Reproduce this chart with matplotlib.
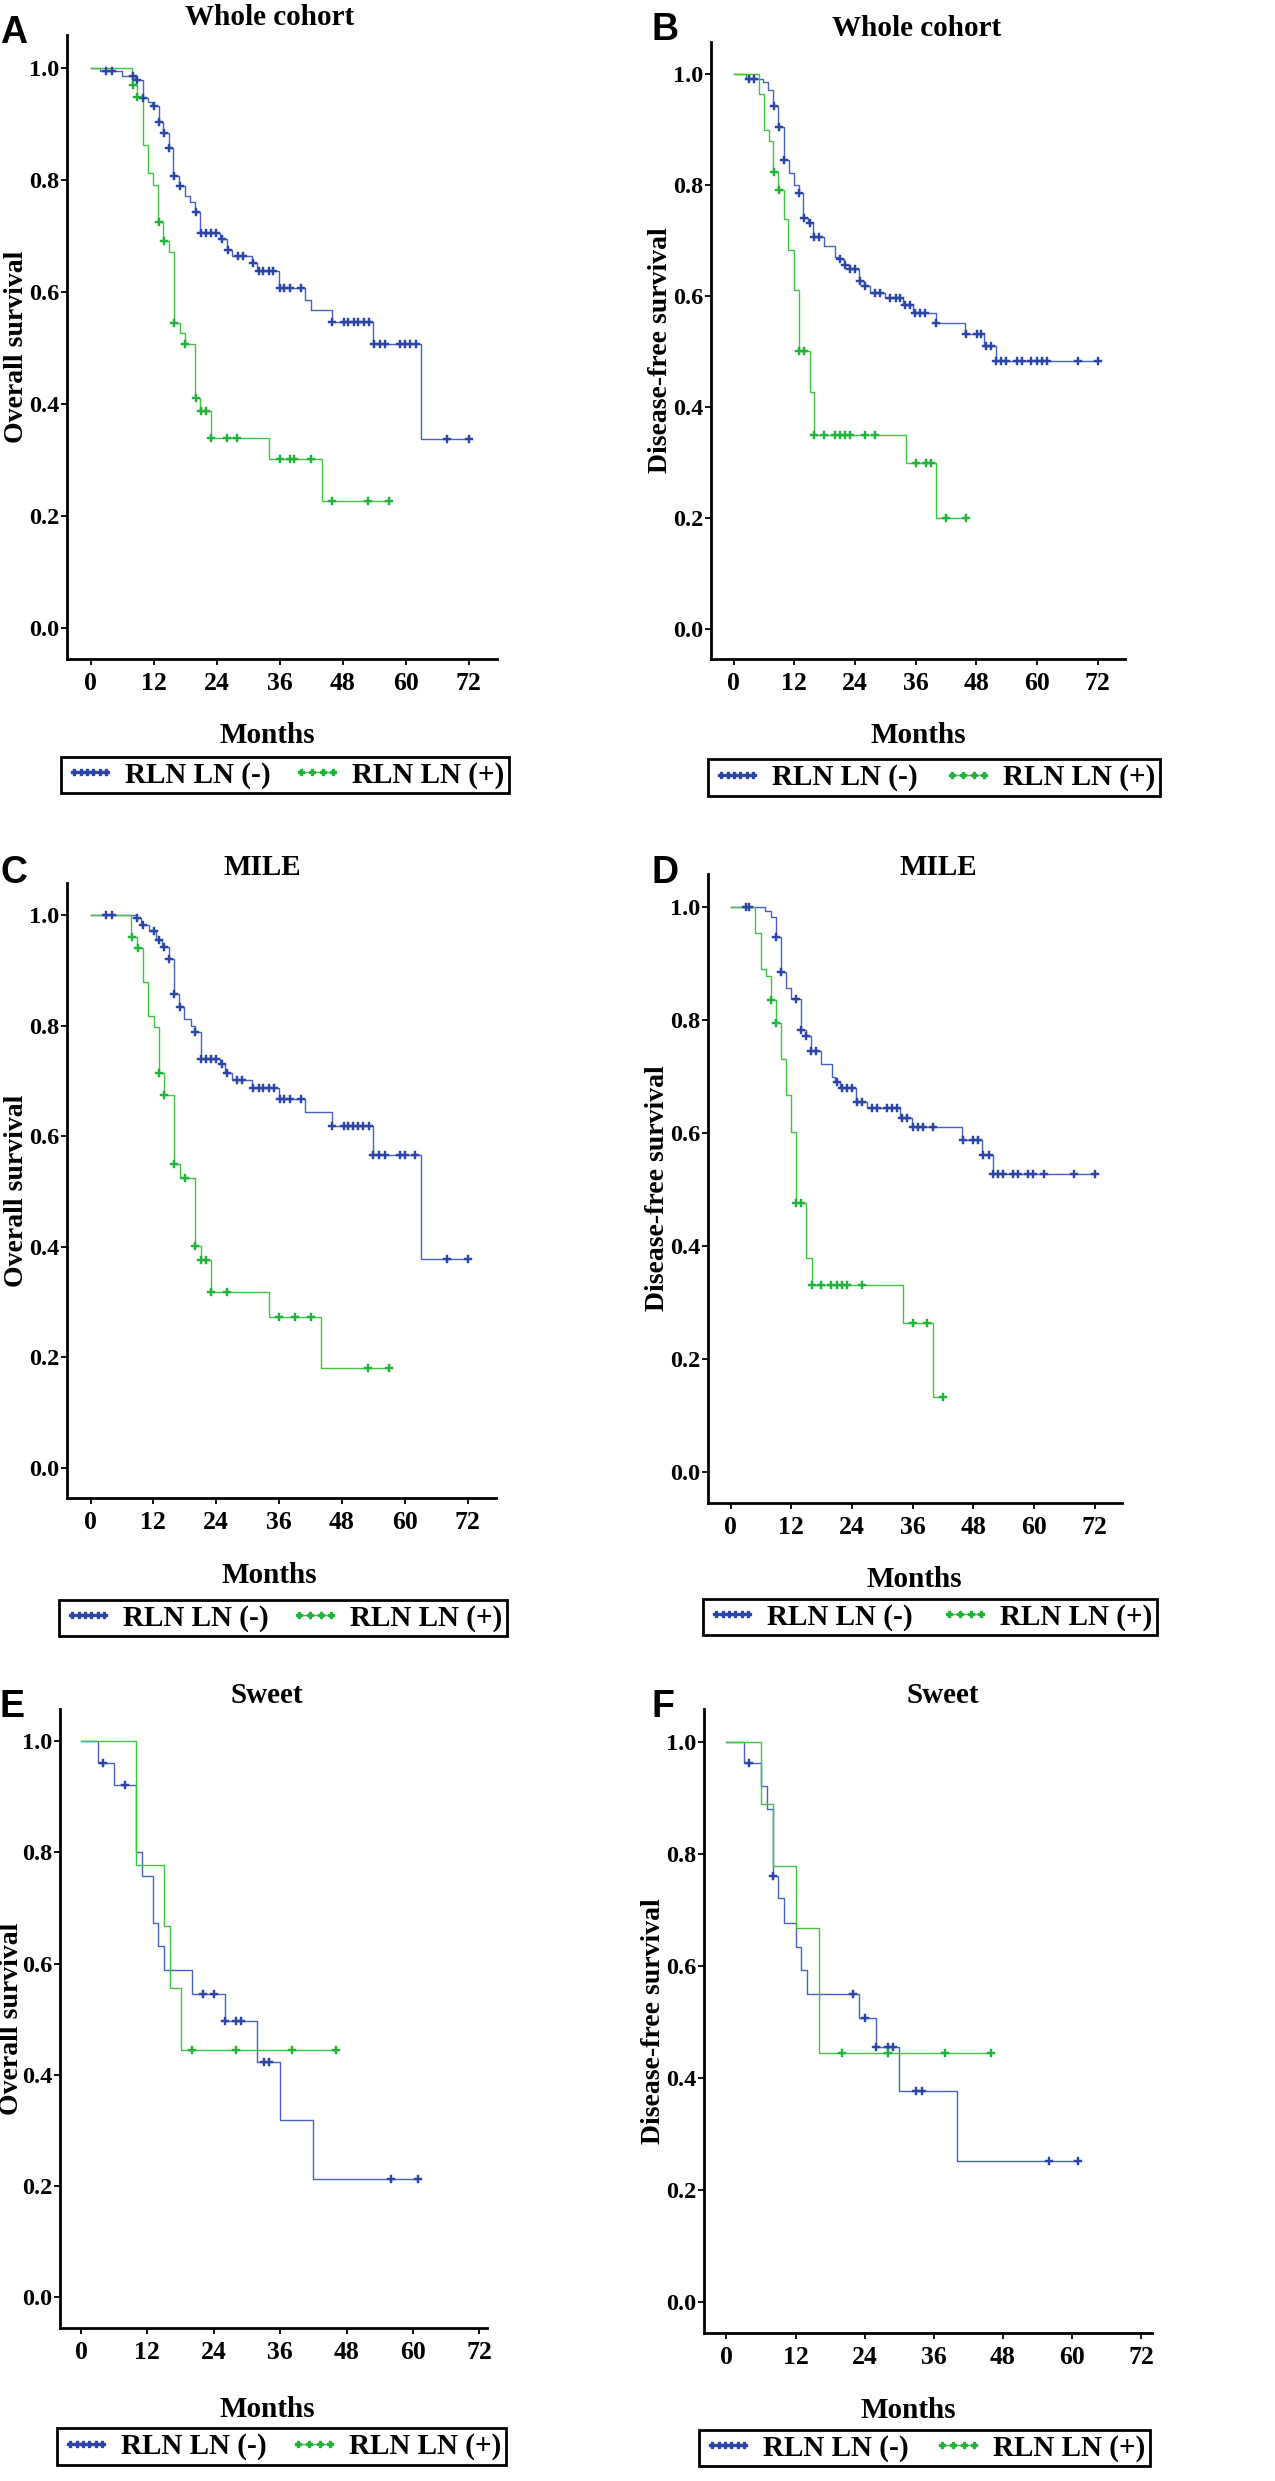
import numpy as np
import matplotlib
matplotlib.use("Agg")
import matplotlib.pyplot as plt
from matplotlib.lines import Line2D
from matplotlib.legend_handler import HandlerLine2D

plt.rcParams['font.family'] = ['Liberation Serif', 'DejaVu Serif']
plt.rcParams['font.weight'] = 'bold'

W, H = 1275, 2481

# ---- data (months, survival after each event, censor times) ----
# A: overall survival, whole cohort
a_neg_t = [1.8, 5.9, 8.45, 9.9, 11.0, 11.6, 13.0, 13.86, 15.0, 15.77, 16.9, 18.0, 18.9, 19.9, 20.85,
           24.7, 25.9, 27.0, 30.8, 31.7, 35.8, 40.9, 42.0, 46.0, 53.8, 63.0]
a_neg_s = [0.993, 0.985, 0.978, 0.946, 0.939, 0.931, 0.902, 0.883, 0.856, 0.806, 0.788, 0.770, 0.761,
           0.742, 0.705, 0.694, 0.675, 0.663, 0.652, 0.637, 0.607, 0.586, 0.567, 0.546, 0.506, 0.338]
a_neg_c = [2.9, 4.0, 8.0, 8.9, 9.9, 12.0, 13.0, 13.9, 15.0, 15.9, 17.0, 20.0, 21.0, 22.0, 22.9, 23.9,
           25.0, 26.1, 28.0, 29.0, 31.0, 32.0, 32.9, 33.9, 34.8, 36.0, 36.9, 37.9, 40.1, 46.0, 48.2,
           49.1, 50.1, 51.0, 52.0, 53.0, 54.0, 55.2, 56.1, 59.0, 59.9, 60.9, 61.9, 67.9, 72.0]
a_pos_t = [7.95, 8.77, 9.9, 10.9, 11.95, 12.9, 13.86, 15.0, 15.9, 17.0, 17.9, 19.9, 20.85, 22.9, 33.9, 44.0]
a_pos_s = [0.969, 0.948, 0.862, 0.811, 0.790, 0.725, 0.690, 0.671, 0.545, 0.527, 0.507, 0.410, 0.388,
           0.339, 0.301, 0.227]
a_pos_c = [8.0, 8.8, 12.95, 13.9, 15.95, 18.0, 20.0, 21.0, 22.0, 23.0, 26.0, 27.9, 36.0, 37.9, 38.8,
           41.9, 45.9, 52.9, 56.9]

# B: disease-free survival, whole cohort
b_neg_t = [2.5, 5.87, 6.86, 7.84, 8.83, 9.95, 10.94, 11.93, 12.99, 13.78, 14.77, 15.75, 17.93, 20.04,
           20.9, 21.8, 22.9, 24.85, 25.8, 26.96, 29.9, 33.55, 35.5, 40.0, 45.75, 49.6, 51.9]
b_neg_s = [0.992, 0.986, 0.971, 0.942, 0.905, 0.845, 0.822, 0.800, 0.785, 0.740, 0.731, 0.707, 0.690,
           0.671, 0.666, 0.656, 0.648, 0.627, 0.617, 0.606, 0.597, 0.584, 0.569, 0.551, 0.531, 0.509, 0.483]
b_neg_c = [3.0, 4.0, 7.9, 9.0, 10.0, 13.0, 13.9, 15.0, 15.9, 16.9, 21.0, 22.0, 23.0, 24.0, 25.0, 26.0,
           28.0, 29.0, 31.0, 32.0, 32.9, 33.9, 34.9, 35.9, 36.9, 37.8, 40.0, 45.9, 48.1, 49.0, 49.9,
           50.9, 51.9, 52.9, 53.9, 56.0, 57.0, 58.9, 59.9, 60.9, 61.9, 68.2, 72.1]
b_pos_t = [4.9, 5.9, 6.9, 7.8, 8.8, 10.0, 10.8, 11.9, 13.0, 15.0, 15.9, 34.0, 40.0]
b_pos_s = [0.964, 0.900, 0.880, 0.823, 0.791, 0.738, 0.683, 0.611, 0.500, 0.426, 0.349, 0.299, 0.200]
b_pos_c = [7.9, 9.0, 13.0, 13.9, 15.9, 17.9, 20.0, 21.0, 21.95, 23.0, 26.0, 28.0, 36.0, 38.0, 39.0,
           42.0, 46.0]

# C: overall survival, MIILE
c_neg_t = [8.58, 9.54, 11.1, 12.5, 13.7, 14.9, 15.9, 16.85, 17.9, 19.1, 20.0, 21.0, 24.8, 25.7, 27.0,
           30.8, 35.9, 41.0, 46.0, 53.9, 63.1]
c_neg_s = [0.994, 0.982, 0.972, 0.955, 0.942, 0.921, 0.858, 0.833, 0.812, 0.800, 0.788, 0.740, 0.730,
           0.715, 0.701, 0.687, 0.667, 0.643, 0.618, 0.566, 0.377]
c_neg_c = [3.0, 4.0, 8.9, 10.0, 12.1, 13.0, 14.0, 15.0, 16.0, 17.0, 20.0, 21.0, 22.0, 22.9, 24.0, 25.0,
           26.1, 28.0, 29.0, 31.0, 32.1, 33.0, 34.0, 35.0, 36.1, 37.0, 38.0, 40.2, 46.0, 48.3, 49.2,
           50.1, 51.1, 52.1, 53.1, 54.0, 55.0, 56.2, 59.1, 60.0, 61.9, 68.0, 72.0]
c_pos_t = [7.8, 8.9, 10.0, 11.0, 12.1, 13.0, 14.0, 15.9, 17.0, 20.0, 21.0, 23.0, 34.0, 44.0]
c_pos_s = [0.961, 0.941, 0.879, 0.818, 0.797, 0.715, 0.674, 0.550, 0.525, 0.401, 0.376, 0.318, 0.272, 0.181]
c_pos_c = [7.9, 9.0, 13.0, 14.0, 15.9, 18.0, 20.0, 21.0, 22.0, 23.0, 26.0, 36.0, 39.0, 42.0, 53.0, 57.0]

# D: disease-free survival, MIILE
d_neg_t = [6.7, 7.9, 8.9, 9.9, 11.0, 12.0, 13.9, 14.8, 15.9, 17.9, 20.1, 20.7, 21.6, 24.8, 27.0, 33.5,
           35.8, 45.8, 49.8, 51.8]
d_neg_s = [0.993, 0.982, 0.947, 0.884, 0.856, 0.837, 0.782, 0.771, 0.744, 0.722, 0.699, 0.690, 0.679,
           0.655, 0.644, 0.627, 0.611, 0.587, 0.560, 0.528]
d_neg_c = [3.0, 3.6, 8.9, 10.0, 12.9, 13.9, 14.9, 15.9, 16.9, 21.0, 22.0, 23.0, 24.0, 25.0, 26.0, 27.9,
           28.9, 30.9, 31.9, 32.9, 33.9, 34.8, 36.0, 37.0, 38.0, 40.0, 46.0, 48.0, 49.0, 50.0, 51.0,
           51.9, 52.9, 53.9, 55.9, 56.9, 58.8, 59.8, 61.9, 67.9, 72.0]
d_pos_t = [4.8, 5.9, 7.0, 8.0, 8.9, 9.9, 11.0, 12.0, 12.9, 14.9, 16.0, 34.0, 40.0]
d_pos_s = [0.954, 0.890, 0.878, 0.835, 0.795, 0.731, 0.667, 0.601, 0.475, 0.378, 0.331, 0.264, 0.132]
d_pos_c = [8.0, 8.9, 12.9, 13.9, 16.0, 17.9, 19.9, 21.0, 22.0, 23.0, 25.9, 36.0, 38.9, 41.9]

# E: overall survival, Sweet
e_neg_t = [3.0, 6.0, 9.9, 11.0, 13.0, 14.0, 15.0, 20.0, 26.0, 31.9, 36.0, 42.0]
e_neg_s = [0.961, 0.921, 0.800, 0.757, 0.673, 0.631, 0.588, 0.545, 0.497, 0.424, 0.319, 0.213]
e_neg_c = [4.0, 8.0, 22.0, 24.0, 26.0, 28.0, 29.0, 33.0, 34.0, 56.0, 61.0]
e_pos_t = [9.9, 15.0, 16.0, 18.0]
e_pos_s = [0.778, 0.667, 0.556, 0.445]
e_pos_c = [20.0, 28.0, 38.1, 46.1]

# F: disease-free survival, Sweet
f_neg_t = [3.0, 6.0, 7.0, 8.0, 9.0, 10.0, 12.0, 13.0, 14.0, 23.0, 26.0, 30.0, 40.0]
f_neg_s = [0.961, 0.921, 0.880, 0.760, 0.720, 0.676, 0.634, 0.593, 0.549, 0.507, 0.455, 0.377, 0.252]
f_neg_c = [3.9, 8.0, 22.0, 24.0, 26.0, 28.0, 29.0, 33.0, 34.0, 56.0, 61.0]
f_pos_t = [6.0, 8.0, 12.0, 16.0]
f_pos_s = [0.889, 0.778, 0.667, 0.445]
f_pos_c = [20.0, 28.0, 38.0, 46.0]

x_ticks = [0, 12, 24, 36, 48, 60, 72]
y_ticks = [0.0, 0.2, 0.4, 0.6, 0.8, 1.0]
group_labels = ['RLN LN (-)', 'RLN LN (+)']

BLUE_L, BLUE_M = '#4762c4', '#2b45a6'
GREEN_L, GREEN_M = '#40c540', '#1fb33a'

# layout in pixels: axes (l, t, r, b), xlim, title xy, months xy, legend (l, t, r, b),
# letter xy, ylabel baseline x
panels = [
    dict(letter='A', title='Whole cohort', ylab='Overall survival',
         neg=(a_neg_t, a_neg_s, a_neg_c), pos=(a_pos_t, a_pos_s, a_pos_c),
         ax=(67, 35, 497, 659), xlim=(-4.5, 77.4), tt=(270, 25), mo=(267, 743),
         leg=(61, 754, 509, 796), lt=(0, 43), yl=23),
    dict(letter='B', title='Whole cohort', ylab='Disease-free survival',
         neg=(b_neg_t, b_neg_s, b_neg_c), pos=(b_pos_t, b_pos_s, b_pos_c),
         ax=(711, 42, 1125, 659), xlim=(-4.5, 77.4), tt=(917, 36), mo=(918, 743),
         leg=(708, 756, 1160, 799), lt=(652, 40), yl=667),
    dict(letter='C', title='MILE', ylab='Overall survival',
         neg=(c_neg_t, c_neg_s, c_neg_c), pos=(c_pos_t, c_pos_s, c_pos_c),
         ax=(67, 883, 496, 1498), xlim=(-4.5, 77.4), tt=(262, 875), mo=(269, 1583),
         leg=(59, 1596, 507, 1640), lt=(0, 883), yl=23),
    dict(letter='D', title='MILE', ylab='Disease-free survival',
         neg=(d_neg_t, d_neg_s, d_neg_c), pos=(d_pos_t, d_pos_s, d_pos_c),
         ax=(708, 874, 1122, 1503), xlim=(-4.5, 77.4), tt=(938, 875), mo=(914, 1587),
         leg=(703, 1597, 1157, 1637), lt=(652, 883), yl=664),
    dict(letter='E', title='Sweet', ylab='Overall survival',
         neg=(e_neg_t, e_neg_s, e_neg_c), pos=(e_pos_t, e_pos_s, e_pos_c),
         ax=(60, 1709, 487, 2328), xlim=(-3.8, 73.4), tt=(267, 1703), mo=(267, 2417),
         leg=(57, 2425, 506, 2468), lt=(0, 1717), yl=18),
    dict(letter='F', title='Sweet', ylab='Disease-free survival',
         neg=(f_neg_t, f_neg_s, f_neg_c), pos=(f_pos_t, f_pos_s, f_pos_c),
         ax=(704, 1709, 1152, 2333), xlim=(-3.9, 73.9), tt=(943, 1703), mo=(908, 2418),
         leg=(699, 2427, 1150, 2469), lt=(652, 1717), yl=660),
]


def fx(x):
    return x / W


def fy(y):
    return 1 - y / H


def km(ax, curve, lcol, mcol):
    t, s, c = (np.asarray(v, dtype=float) for v in curve)
    end = max(t[-1], c[-1])
    xs = np.concatenate([[0.0], t, [end]])
    ys = np.concatenate([[1.0], s, [s[-1]]])
    ax.plot(xs, ys, drawstyle='steps-post', color=lcol, lw=1.0, zorder=2)
    cy = np.concatenate([[1.0], s])[np.searchsorted(t, c, side='right')]
    ax.plot(c, cy, ls='none', marker='P', ms=6, color=mcol, mec=mcol, mew=0.3, zorder=3)


fig = plt.figure(figsize=(W / 100, H / 100), dpi=100)

for p in panels:
    l, t, r, b = p['ax']
    ax = fig.add_axes([fx(l), fy(b), (r - l) / W, (b - t) / H])
    km(ax, p['neg'], BLUE_L, BLUE_M)
    km(ax, p['pos'], GREEN_L, GREEN_M)
    ax.set_xlim(*p['xlim'])
    ax.set_ylim(-0.055, 1.058)
    ax.set_xticks(x_ticks)
    ax.set_yticks(y_ticks)
    ax.set_yticklabels([f'{v:.1f}' for v in y_ticks])
    for sp in ['top', 'right']:
        ax.spines[sp].set_visible(False)
    for sp in ['left', 'bottom']:
        ax.spines[sp].set_linewidth(2.0)
    ax.tick_params(axis='both', direction='out', length=4.5, width=1.3, labelsize=17.5, pad=1)
    ax.tick_params(axis='x', labelsize=18.5, pad=5)
    for lab in ax.get_xticklabels() + ax.get_yticklabels():
        lab.set_fontweight('bold')

    fig.text(fx(p['yl']), fy((t + b) / 2), p['ylab'], rotation=90, rotation_mode='anchor',
             ha='center', va='baseline', fontsize=20, fontweight='bold')
    fig.text(fx(p['tt'][0]), fy(p['tt'][1]), p['title'], ha='center', va='baseline',
             fontsize=21, fontweight='bold')
    fig.text(fx(p['mo'][0]), fy(p['mo'][1]), 'Months', ha='center', va='baseline',
             fontsize=21, fontweight='bold')
    fig.text(fx(p['lt'][0]), fy(p['lt'][1]), p['letter'], ha='left', va='baseline',
             fontsize=27, fontweight='bold', family='Liberation Sans')

    h_neg = Line2D([], [], color=BLUE_L, lw=1.0, marker='P', ms=4.5, mfc=BLUE_M, mec=BLUE_M)
    h_pos = Line2D([], [], color=GREEN_L, lw=1.0, marker='P', ms=4.5, mfc=GREEN_M, mec=GREEN_M)
    ll, lt_, lr, lb = p['leg']
    leg = ax.legend([h_neg, h_pos], group_labels, ncol=2, mode='expand', loc='center',
                    bbox_to_anchor=(fx(ll), fy(lb), (lr - ll) / W, (lb - lt_) / H),
                    bbox_transform=fig.transFigure, frameon=True, fancybox=False,
                    edgecolor='black', framealpha=1, fontsize=21, handlelength=1.7,
                    handletextpad=0.35, borderpad=0.15, borderaxespad=0, columnspacing=1.0,
                    handler_map={h_neg: HandlerLine2D(numpoints=6), h_pos: HandlerLine2D(numpoints=4)})
    leg.get_frame().set_linewidth(2.0)
    for txt in leg.get_texts():
        txt.set_fontweight('bold')

fig.savefig('out.png', dpi=100, facecolor='white')
